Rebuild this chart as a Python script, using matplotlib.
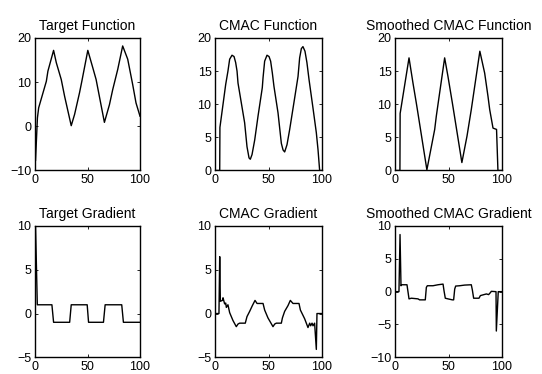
import matplotlib
matplotlib.use("Agg")
import matplotlib.pyplot as plt

plt.rcParams['font.family'] = ['Liberation Sans', 'DejaVu Sans']

# Target Function
tf_x = [0.5, 2.3, 3.5, 10.8, 12.3, 17.7, 20.3, 25.0, 28.2, 34.5, 37.7, 42.4, 44.6,
        50.3, 55.0, 58.2, 66.1, 70.9, 74.0, 78.8, 83.5, 88.3, 93.0, 96.2, 100]
tf_y = [-7.7, 1.9, 4.2, 10.2, 12.5, 17.2, 14.4, 10.6, 6.8, 0.15, 2.7, 7.6, 10.2,
        17.2, 13.3, 10.6, 0.9, 4.9, 8.3, 12.9, 18.2, 15.2, 9.5, 5.3, 2.3]

# CMAC Function
cf_x = [0, 4.4, 4.6, 10.0, 12.1, 13.7, 15.9, 17.8, 19.3, 20.6, 21.5, 24.6, 27.7,
        29.9, 31.8, 33.0, 34.6, 37.1, 40.2, 44.2, 44.9, 46.4, 48.6, 50.5, 52.0,
        53.6, 55.1, 58.9, 62.0, 63.6, 65.1, 67.3, 69.8, 74.5, 77.6, 79.1, 80.7,
        82.2, 84.1, 85.9, 87.9, 91.6, 94.7, 96.3, 97.8, 100]
cf_y = [0, 0, 6.5, 13.0, 15.0, 16.8, 17.4, 17.2, 16.3, 15.0, 13.2, 10.2, 7.2,
        3.6, 1.9, 1.7, 2.4, 4.6, 8.2, 12.5, 14.0, 16.5, 17.4, 17.2, 16.5,
        14.7, 12.7, 8.7, 4.1, 3.1, 2.8, 3.9, 6.2, 11.0, 14.2, 17.0, 18.4,
        18.7, 18.0, 16.3, 13.7, 9.4, 5.7, 3.1, 0, 0]

# Smoothed CMAC Function
sf_x = [0, 4.6, 4.8, 13.1, 16.8, 19.9, 20.9, 29.8, 37.1, 38.6, 46.4, 49.5, 53.6,
        54.6, 62.5, 67.3, 71.3, 79.3, 83.8, 86.9, 88.5, 91.6, 94.9, 96.2, 100]
sf_y = [0, 0, 8.6, 17.0, 13.2, 10.2, 9.2, 0.1, 6.2, 8.2, 17.0, 14.2, 10.2,
        9.2, 1.2, 5.2, 9.2, 18.0, 14.7, 11.2, 9.2, 6.4, 6.2, 0, 0]

# Target Gradient
tg_x = [0.5, 2.2, 16.1, 17.7, 33.0, 34.5, 49.7, 51.0, 65.2, 66.8, 82.6, 84.2, 100]
tg_y = [10, 1, 1, -1, -1, 1, 1, -1, -1, 1, 1, -1, -1]

# CMAC Gradient
cg_x = [0, 3.7, 4.4, 5.0, 6.9, 7.5, 9.0, 10.0, 10.6, 12.1, 13.7, 16.8, 19.9, 21.5,
        23.0, 28.3, 29.9, 32.4, 34.9, 37.4, 39.3, 44.9, 46.4, 49.5, 54.2, 55.8,
        57.3, 62.0, 63.0, 65.1, 68.2, 70.4, 72.9, 78.5, 79.8, 83.8, 86.9, 88.5,
        89.4, 90.7, 91.6, 93.1, 94.7, 95.3, 97.2, 100]
cg_y = [0, 0, 6.5, 1.4, 1.5, 1.8, 1.1, 1.2, 0.7, 1.0, 0.1, -0.8, -1.5, -1.2,
        -1.1, -1.1, -0.35, 0.25, 0.9, 1.5, 1.15, 1.15, 0.4, -0.5, -1.5, -1.2,
        -1.1, -1.1, -0.5, 0.25, 0.9, 1.5, 1.15, 1.15, 0.4, -0.6, -1.6, -1.1,
        -1.4, -1.1, -1.4, -1.1, -4.1, 0, 0, 0]

# Smoothed CMAC Gradient
sg_x = [0, 3.7, 4.7, 5.6, 6.2, 11.2, 13.1, 15.3, 21.5, 23.0, 28.3, 29.3, 30.2,
        35.5, 40.2, 44.9, 45.8, 47.0, 49.5, 53.6, 54.8, 55.8, 56.7, 60.4, 65.1,
        71.3, 72.3, 73.5, 78.5, 79.8, 85.4, 87.5, 89.4, 90.0, 94.4, 94.7, 96.5, 100]
sg_y = [0, 0, 8.7, 0.9, 1.05, 1.05, -1.1, -1.0, -1.1, -1.25, -1.25, 0.65, 0.9,
        0.9, 1.05, 1.15, 0.15, -1.0, -1.1, -1.25, -1.25, 0.4, 0.85, 0.9, 1.0,
        1.05, 0.25, -1.0, -1.0, -0.6, -0.35, -0.45, -0.1, 0.05, 0.0, -6.0, 0, 0]

titles = ['Target Function', 'CMAC Function', 'Smoothed CMAC Function',
          'Target Gradient', 'CMAC Gradient', 'Smoothed CMAC Gradient']
series = [(tf_x, tf_y), (cf_x, cf_y), (sf_x, sf_y),
          (tg_x, tg_y), (cg_x, cg_y), (sg_x, sg_y)]
ylims = [(-10, 20), (0, 20), (0, 20), (-5, 10), (-5, 10), (-10, 10)]
yticks = [[-10, 0, 10, 20], [0, 5, 10, 15, 20], [0, 5, 10, 15, 20],
          [-5, 0, 5, 10], [-5, 0, 5, 10], [-10, -5, 0, 5, 10]]

W, H = 542, 374
fig = plt.figure(figsize=(W / 100, H / 100), dpi=100)

lefts = [35, 215, 395]
widths = [105, 107, 107]
tops = [38, 226]
heights = [132.5, 131.3]

for i in range(6):
    r, c = divmod(i, 3)
    ax = fig.add_axes([lefts[c] / W, 1 - (tops[r] + heights[r]) / H,
                       widths[c] / W, heights[r] / H])
    x, y = series[i]
    ax.plot(x, y, color='black', lw=1.0)
    ax.set_xlim(0, 100)
    ax.set_ylim(*ylims[i])
    ax.set_xticks([0, 50, 100])
    ax.set_yticks(yticks[i])
    ax.tick_params(direction='in', length=2.5, width=0.6, top=True, right=True,
                   labelsize=9, pad=2.5)
    for s in ax.spines.values():
        s.set_linewidth(1.0)
    ax.set_title(titles[i], fontsize=10, pad=6)

fig.savefig('out.png', dpi=100)
